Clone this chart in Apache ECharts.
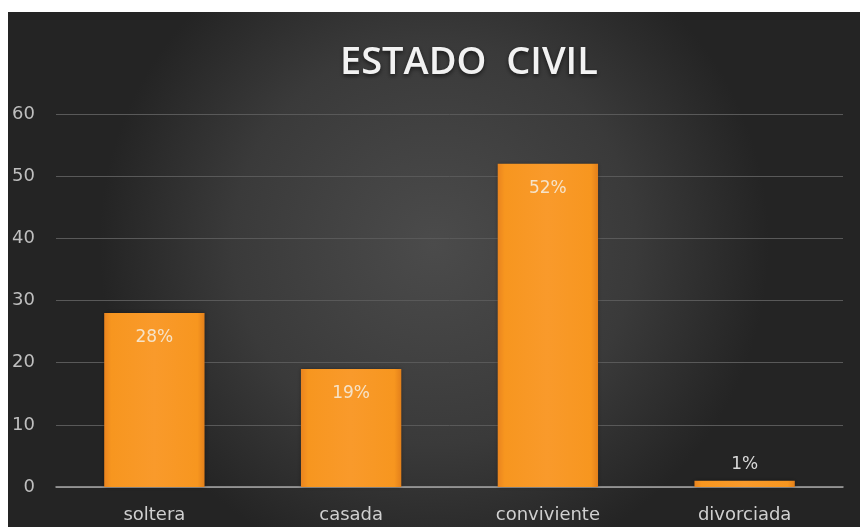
<!DOCTYPE html>
<html>
<head>
<meta charset="utf-8">
<script src="https://cdn.jsdelivr.net/npm/echarts@6/dist/echarts.min.js"></script>
<style>
html,body{margin:0;padding:0;background:#fff;}
#c{width:860px;height:527px;}
</style>
</head>
<body>
<div id="c"></div>
<script>
const titleText = 'ESTADO  CIVIL';
const categories = ['soltera', 'casada', 'conviviente', 'divorciada'];
const values = [28, 19, 52, 1];
const percentLabels = ['28%', '19%', '52%', '1%'];
const yTicks = { min: 0, max: 60, interval: 10 };

const chart = echarts.init(document.getElementById('c'), null, { renderer: 'canvas' });

const barColor = new echarts.graphic.LinearGradient(0, 0, 1, 0, [
  { offset: 0, color: '#ea841f' },
  { offset: 0.07, color: '#f7961f' },
  { offset: 0.5, color: '#f99a2b' },
  { offset: 0.93, color: '#f7961f' },
  { offset: 1, color: '#e3801b' }
]);

const data = values.map((v, i) => ({
  value: v,
  label: v < 5
    ? { show: true, position: 'top', distance: 8, color: '#d9d9d9', formatter: percentLabels[i] }
    : { show: true, position: 'insideTop', distance: 16, color: '#f6e3c8', formatter: percentLabels[i] }
}));

chart.setOption({
  backgroundColor: '#ffffff',
  graphic: [{
    type: 'rect',
    left: 8, top: 12,
    shape: { width: 852, height: 515 },
    z: -10,
    silent: true,
    style: {
      fill: new echarts.graphic.RadialGradient(0.5, 0.45, 0.65, [
        { offset: 0, color: '#4b4b4b' },
        { offset: 0.6, color: '#3a3a3a' },
        { offset: 1, color: '#242424' }
      ])
    }
  }],
  title: {
    text: titleText,
    left: 335,
    top: 39,
    textStyle: {
      color: '#f2f2f2',
      fontFamily: 'Open Sans',
      fontWeight: 600,
      fontSize: 38,
      textShadowColor: 'rgba(0,0,0,0.6)',
      textShadowBlur: 4,
      textShadowOffsetY: 2
    }
  },
  grid: { left: 56, right: 17, top: 114, bottom: 40, containLabel: false, outerBoundsMode: 'none' },
  xAxis: {
    type: 'category',
    data: categories,
    axisLine: { lineStyle: { color: '#a6a6a6', width: 1.5 } },
    axisTick: { show: false },
    axisLabel: { color: '#d0d0d0', fontFamily: 'DejaVu Sans', fontSize: 18, margin: 19 }
  },
  yAxis: {
    type: 'value',
    min: yTicks.min, max: yTicks.max, interval: yTicks.interval,
    axisLine: { show: false },
    axisTick: { show: false },
    splitLine: { lineStyle: { color: '#595959', width: 1 } },
    axisLabel: { color: '#bfbfbf', fontFamily: 'DejaVu Sans', fontSize: 18, margin: 21 }
  },
  series: [{
    type: 'bar',
    data: data,
    barWidth: '51%',
    itemStyle: {
      color: barColor,
      shadowColor: 'rgba(0,0,0,0.35)',
      shadowBlur: 4
    },
    label: { fontFamily: 'DejaVu Sans', fontSize: 17 }
  }]
});
</script>
</body>
</html>
